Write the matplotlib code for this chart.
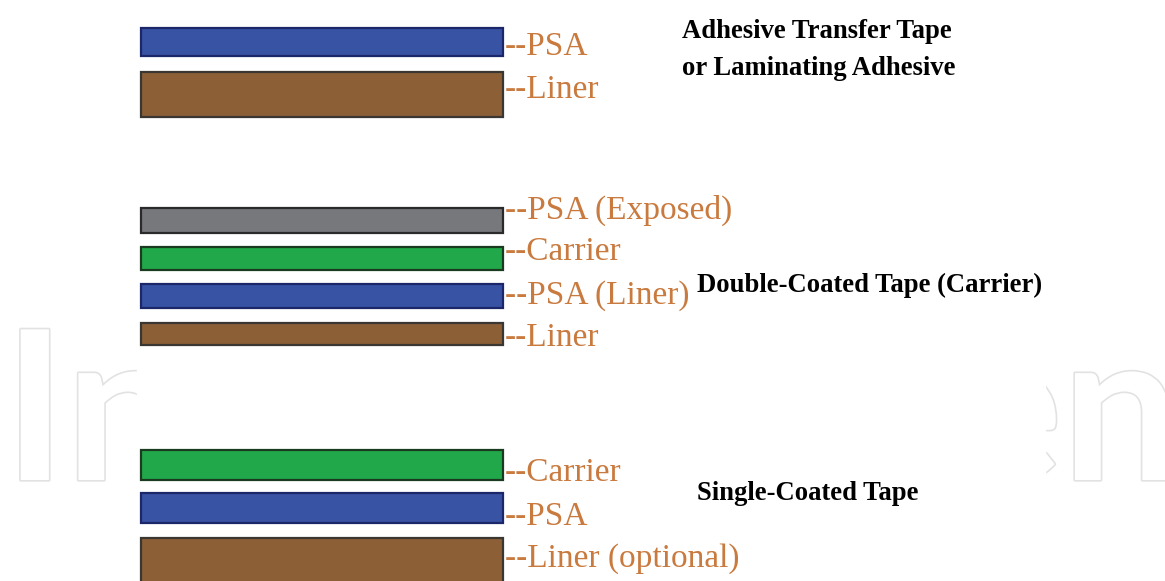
import matplotlib
matplotlib.use('Agg')
import matplotlib.pyplot as plt
import matplotlib.patheffects as pe
from matplotlib.patches import Rectangle

# layer stacks, top to bottom
transfer_layers = ['PSA', 'Liner']
double_layers = ['PSA (Exposed)', 'Carrier', 'PSA (Liner)', 'Liner']
single_layers = ['Carrier', 'PSA', 'Liner (optional)']
group_titles = [['Adhesive Transfer Tape', 'or Laminating Adhesive'],
                ['Double-Coated Tape (Carrier)'],
                ['Single-Coated Tape']]

fills = {'PSA': '#3853a4', 'Liner': '#8c5f36', 'Carrier': '#21a84a', 'Exposed': '#77787b'}
edges = {'PSA': '#1b2768', 'Liner': '#3a3632', 'Carrier': '#1b3b20', 'Exposed': '#2a2a2a'}

def kind(name):
    if 'Exposed' in name:
        return 'Exposed'
    return name.split(' ')[0]

# layout in pixels (top, bottom of each bar; label baseline)
bar_left, bar_right = 141, 503
transfer_pos = [(28, 56, 55), (72, 117, 98)]
double_pos = [(208, 233, 219), (247, 270, 260), (284, 308, 304), (323, 345, 346)]
single_pos = [(450, 480, 481), (493, 523, 525), (538, 600, 567)]
title_pos = [(682, 38), (697, 292), (697, 500)]
title_step = 37

orange = '#c97a3f'

fig = plt.figure(figsize=(11.65, 5.81), dpi=100)
ax = fig.add_axes([0, 0, 1, 1])
ax.set_xlim(0, 1165)
ax.set_ylim(581, 0)
ax.axis('off')

# faint watermark behind the diagram
wm = dict(fontsize=150, family='Lato', fontweight='bold', color='white',
          va='baseline', zorder=0,
          path_effects=[pe.withStroke(linewidth=2.4, foreground='#e2e2e2')])
ax.text(4, 480, 'Intech', ha='left', **wm)
ax.text(1180, 480, 'Open', ha='right', **wm)
ax.add_patch(Rectangle((137, 0), 1045 - 137, 581, color='white', zorder=1))

for layers, pos in [(transfer_layers, transfer_pos), (double_layers, double_pos),
                    (single_layers, single_pos)]:
    for name, (top, bot, base) in zip(layers, pos):
        k = kind(name)
        ax.barh((top + bot) / 2, bar_right - bar_left, height=bot - top, left=bar_left,
                color=fills[k], edgecolor=edges[k], linewidth=1.6, zorder=3)
        ax.text(bar_right + 2, base, '--' + name, color=orange, fontsize=24,
                family='Liberation Serif', va='baseline', ha='left', zorder=4)

for lines, (x, y) in zip(group_titles, title_pos):
    for i, line in enumerate(lines):
        ax.text(x, y + i * title_step, line, fontsize=19.2, family='Liberation Serif',
                fontweight='bold', color='black', va='baseline', ha='left', zorder=4)

fig.savefig('out.png', dpi=100)
